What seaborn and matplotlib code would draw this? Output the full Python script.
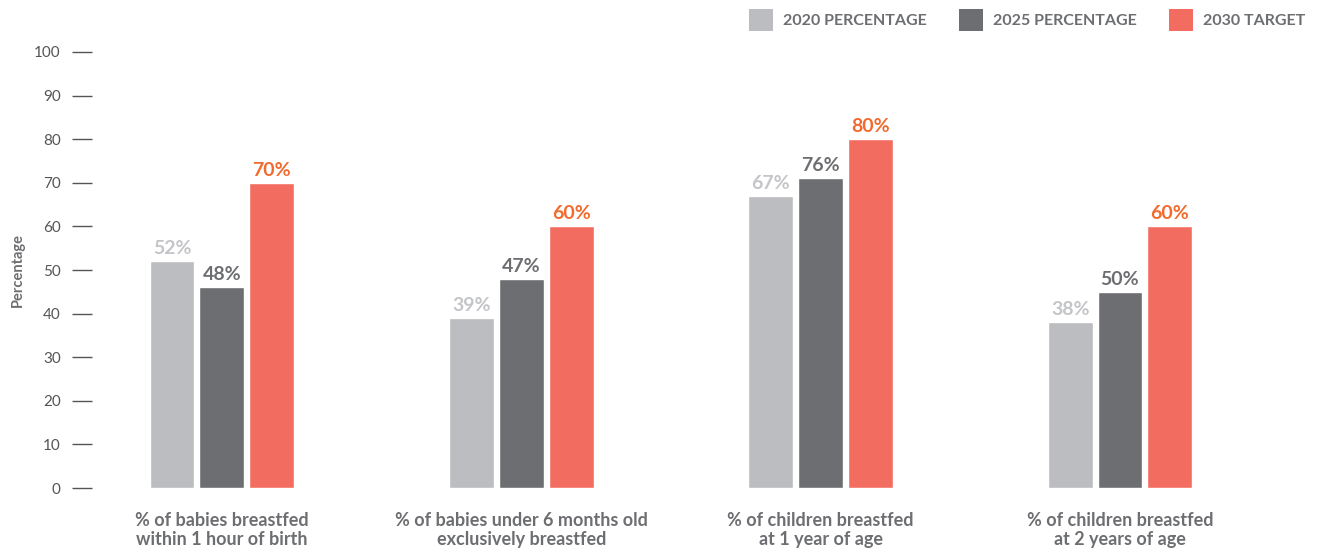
import matplotlib
matplotlib.use("Agg")
import matplotlib.pyplot as plt
import pandas as pd
import seaborn as sns
from matplotlib.patches import Patch

# data
categories = [
    "% of babies breastfed\nwithin 1 hour of birth",
    "% of babies under 6 months old\nexclusively breastfed",
    "% of children breastfed\nat 1 year of age",
    "% of children breastfed\nat 2 years of age",
]
series = ["2020 PERCENTAGE", "2025 PERCENTAGE", "2030 TARGET"]
bars_2020 = [52, 39, 67, 38]
bars_2025 = [46, 48, 71, 45]
bars_2030 = [70, 60, 80, 60]
labels_2020 = [52, 39, 67, 38]
labels_2025 = [48, 47, 76, 50]
labels_2030 = [70, 60, 80, 60]
y_ticks = [0, 10, 20, 30, 40, 50, 60, 70, 80, 90, 100]

bar_colors = ["#bcbdc0", "#6d6e71", "#f26d60"]
text_colors = ["#c4c5c8", "#6d6e71", "#f26a2e"]

sns.set_theme(style="white")
plt.rcParams["font.family"] = ["Lato", "DejaVu Sans"]

rows = []
for name, vals in zip(series, [bars_2020, bars_2025, bars_2030]):
    for cat, v in zip(categories, vals):
        rows.append({"category": cat, "series": name, "value": v})
df = pd.DataFrame(rows)

W, H = 1317, 555
fig = plt.figure(figsize=(W / 100, H / 100), dpi=100)
ax = fig.add_axes([92 / W, 67 / H, (W - 92) / W, 436 / H])

sns.barplot(
    data=df, x="category", y="value", hue="series", hue_order=series,
    palette=bar_colors, width=0.5, gap=0.1, saturation=1, errorbar=None,
    legend=False, ax=ax,
)

ax.set_xlim(-0.434, 3.658)
ax.set_ylim(0, 100)
ax.set_yticks(y_ticks)
ax.tick_params(axis="y", left=True, length=14.5, width=1, color="#555555", pad=8,
               labelsize=11, labelcolor="#555555")
ax.tick_params(axis="x", bottom=False, length=0, pad=17)
for lab in ax.get_xticklabels():
    lab.set_fontsize(13)
    lab.set_fontweight("bold")
    lab.set_color("#6d6e71")
    lab.set_linespacing(1.15)
for s in ax.spines.values():
    s.set_visible(False)
ax.set_xlabel("")
ax.set_ylabel("Percentage", fontsize=10.5, fontweight="bold", color="#6d6e71")
ax.yaxis.set_label_coords(-0.055, 0.5)

# value labels above bars
for container, labels, tc in zip(ax.containers, [labels_2020, labels_2025, labels_2030], text_colors):
    ax.bar_label(container, labels=[f"{v}%" for v in labels], padding=3,
                 fontsize=14, fontweight="bold", color=tc)

handles = [Patch(facecolor=c, edgecolor="none") for c in bar_colors]
leg = fig.legend(handles, series, loc="upper right", bbox_to_anchor=(1.002, 1.01),
                 ncol=3, frameon=False, handlelength=1.55, handleheight=1.75,
                 handletextpad=0.6, columnspacing=2.0,
                 prop={"size": 11.5, "weight": "bold"})
for t in leg.get_texts():
    t.set_color("#6d6e71")

fig.savefig("out.png", dpi=100, facecolor="white")
